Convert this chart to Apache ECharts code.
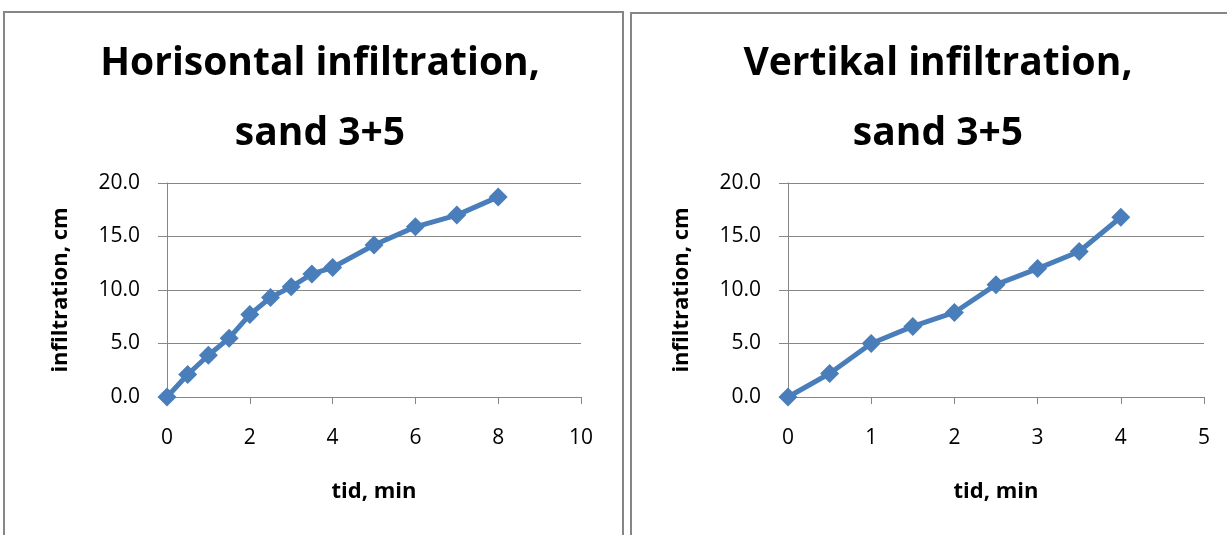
<!DOCTYPE html>
<html><head><meta charset="utf-8">
<script src="https://cdn.jsdelivr.net/npm/echarts@6/dist/echarts.min.js"></script>
<style>html,body{margin:0;padding:0;background:#fff;}#c{width:1227px;height:535px;}</style>
</head><body><div id="c"></div>
<script>
const titleLeft = "Horisontal infiltration,\nsand 3+5";
const titleRight = "Vertikal infiltration,\nsand 3+5";
const xName = "tid, min";
const yName = "infiltration, cm";
const horizTime = [0, 0.5, 1, 1.5, 2, 2.5, 3, 3.5, 4, 5, 6, 7, 8];
const horizInf = [0, 2.1, 3.9, 5.5, 7.7, 9.3, 10.3, 11.5, 12.1, 14.2, 15.9, 17.0, 18.7];
const vertTime = [0, 0.5, 1, 1.5, 2, 2.5, 3, 3.5, 4];
const vertInf = [0, 2.2, 5.0, 6.6, 7.9, 10.5, 12.0, 13.6, 16.8];

const FONT = "Open Sans";
const gray = "#868686";
const blue = "#4A7EBB";

function xAxis(gi, max, interval) {
  return {
    type: 'value', gridIndex: gi, min: 0, max: max, interval: interval,
    name: xName, nameLocation: 'middle', nameGap: 84,
    nameTextStyle: {fontFamily: FONT, fontWeight: 'bold', fontSize: 22, color: '#000'},
    axisLine: {show: true, lineStyle: {color: gray, width: 1}},
    axisTick: {show: true, length: 7, lineStyle: {color: gray}},
    axisLabel: {fontFamily: FONT, fontSize: 21, color: '#000', margin: 31},
    splitLine: {show: false}
  };
}
function yAxis(gi) {
  return {
    type: 'value', gridIndex: gi, min: 0, max: 20, interval: 5,
    name: yName, nameLocation: 'middle', nameGap: 95,
    nameTextStyle: {fontFamily: FONT, fontWeight: 'bold', fontSize: 22, color: '#000'},
    axisLine: {show: true, lineStyle: {color: gray, width: 1}},
    axisTick: {show: true, length: 9, lineStyle: {color: gray}},
    axisLabel: {fontFamily: FONT, fontSize: 21, color: '#000', margin: 27,
      formatter: v => v.toFixed(1)},
    splitLine: {show: true, lineStyle: {color: gray, width: 1}}
  };
}
function series(gi, xs, ys) {
  return {
    type: 'line', xAxisIndex: gi, yAxisIndex: gi,
    data: xs.map((x, i) => [x, ys[i]]),
    symbol: 'diamond', symbolSize: 19,
    lineStyle: {color: blue, width: 5},
    itemStyle: {color: blue},
    animation: false
  };
}
const chart = echarts.init(document.getElementById('c'), null, {renderer: 'canvas'});
chart.setOption({
  animation: false,
  graphic: [
    {type: 'rect', shape: {x: 4, y: 12, width: 619, height: 540}, style: {fill: 'none', stroke: gray, lineWidth: 2}, z: -1},
    {type: 'rect', shape: {x: 631, y: 13, width: 610, height: 540}, style: {fill: 'none', stroke: gray, lineWidth: 2}, z: -1}
  ],
  title: [
    {text: titleLeft, left: 315, top: 24, textAlign: 'center',
      textStyle: {fontFamily: FONT, fontWeight: 'bold', fontSize: 39, lineHeight: 70, color: '#000'}},
    {text: titleRight, left: 933, top: 24, textAlign: 'center',
      textStyle: {fontFamily: FONT, fontWeight: 'bold', fontSize: 39, lineHeight: 70, color: '#000'}}
  ],
  grid: [
    {left: 167, right: 646, top: 183, bottom: 138},
    {left: 788, right: 23, top: 183, bottom: 138}
  ],
  xAxis: [xAxis(0, 10, 2), xAxis(1, 5, 1)],
  yAxis: [yAxis(0), yAxis(1)],
  series: [series(0, horizTime, horizInf), series(1, vertTime, vertInf)]
});
</script></body></html>
